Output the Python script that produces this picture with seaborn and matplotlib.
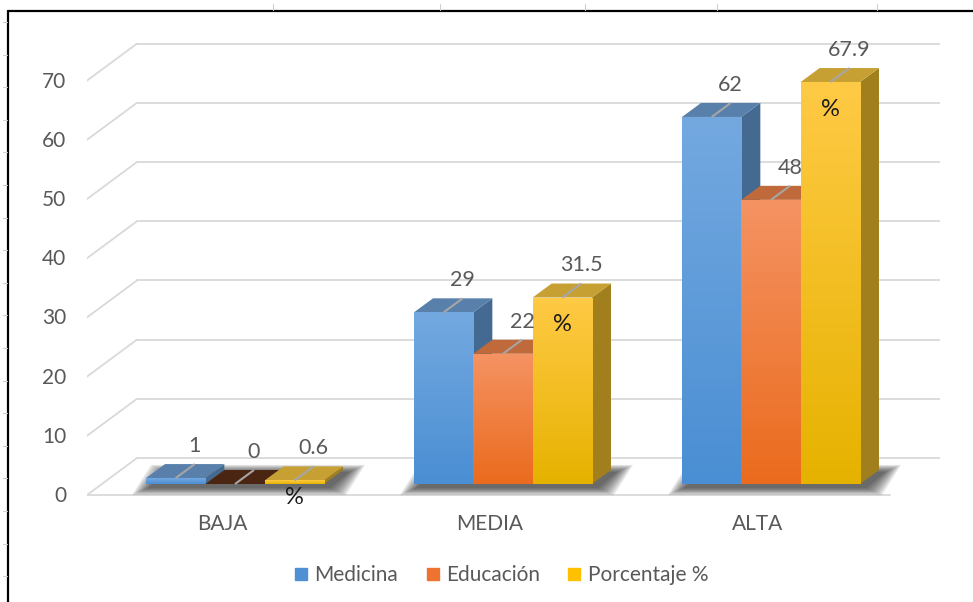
import numpy as np
import pandas as pd
import matplotlib
matplotlib.use("Agg")
import matplotlib.pyplot as plt
import matplotlib.transforms as mtrans
from matplotlib.patches import Polygon
from matplotlib.lines import Line2D
from matplotlib.colors import LinearSegmentedColormap
import seaborn as sns

# ---------------- data ----------------
categories = ["BAJA", "MEDIA", "ALTA"]
series = ["Medicina", "Educación", "Porcentaje %"]
medicina = [1, 29, 62]
educacion = [0, 22, 48]
porcentaje = [0.6, 31.5, 67.9]
y_ticks = [0, 10, 20, 30, 40, 50, 60, 70]

values = {"Medicina": medicina, "Educación": educacion, "Porcentaje %": porcentaje}
df = pd.DataFrame(
    [(c, s, v) for s in series for c, v in zip(categories, values[s])],
    columns=["nivel", "serie", "valor"],
)

# ---------------- styles ----------------
front_top = {"Medicina": "#74a9e0", "Educación": "#f59363", "Porcentaje %": "#ffca45"}
front_bot = {"Medicina": "#4a8ed3", "Educación": "#ea6b1d", "Porcentaje %": "#e6b200"}
top_col = {"Medicina": "#5880ab", "Educación": "#c0693a", "Porcentaje %": "#c7a034"}
side_col = {"Medicina": "#456a92", "Educación": "#b0581f", "Porcentaje %": "#a07f1c"}
legend_col = {"Medicina": "#4e90d3", "Educación": "#ee7330", "Porcentaje %": "#ffc000"}
zero_top = "#4a2512"
text_col = "#595959"
grid_col = "#d9d9d9"

sns.set_theme(style="white")
plt.rcParams["font.family"] = ["Lato", "DejaVu Sans"]

W, H = 973, 602
fig = plt.figure(figsize=(W / 100, H / 100), dpi=100)
fig.patch.set_facecolor("white")

# pixel geometry of the plotting plane (front plane of the bars)
cat_px, x0_px, unit_px, base_px = 268.0, 235.0, 5.92, 484.0
ax_l, ax_r, ax_t, ax_b = 87, 940, 30, 500
ax = fig.add_axes([ax_l / W, 1 - ax_b / H, (ax_r - ax_l) / W, (ax_b - ax_t) / H])
ax.set_facecolor("none")
xlim = ((ax_l - x0_px) / cat_px, (ax_r - x0_px) / cat_px)
ylim = ((base_px - ax_b) / unit_px, (base_px - ax_t) / unit_px)

def px2dx(p):
    return p / cat_px

def px2dy(p):
    return p / unit_px

# depth offsets (in data units)
bar_dx, bar_dy = px2dx(19), px2dy(14)
wall_dx, wall_dy = px2dx(35), px2dy(26)
floor_dx, floor_dy = px2dx(-15), px2dy(-11)

sns.barplot(data=df, x="nivel", y="valor", hue="serie", order=categories,
            hue_order=series, palette=legend_col, width=0.664, gap=0,
            errorbar=None, legend=False, ax=ax, saturation=1)

# ---------------- walls / gridlines ----------------
wall_x0 = px2dx(137 - x0_px)
wall_x1 = px2dx(940 - x0_px)
floor_x0 = px2dx(87 - x0_px)
floor_x1 = px2dx(890 - x0_px)
for v in y_ticks:
    ax.plot([wall_x0, wall_x1], [v + wall_dy, v + wall_dy], color=grid_col, lw=1.3, zorder=0.5)
    ax.plot([floor_x0, wall_x0], [v + floor_dy, v + wall_dy], color=grid_col, lw=1.3, zorder=0.5)
ax.plot([floor_x0, floor_x1], [floor_dy, floor_dy], color=grid_col, lw=1.3, zorder=0.5)

# ---------------- bars (3D faces) ----------------
for si, (s, cont) in enumerate(zip(series, ax.containers)):
    cmap = LinearSegmentedColormap.from_list(s, [front_bot[s], front_top[s]])
    for ci, bar in enumerate(cont.patches):
        x0 = bar.get_x()
        w = bar.get_width()
        h = bar.get_height()
        z = 3 + si * 0.3
        # soft shadow on the floor under each group
        if si == 0:
            gx0 = x0
            gx1 = x0 + 3 * w
            for e in np.linspace(18, 2, 10):
                ex, ey = px2dx(e), px2dy(e * 0.45)
                sx, sy = px2dx(4), px2dy(-3)
                poly = [(gx0 - ex + sx, -ey + sy), (gx1 + ex + sx, -ey + sy),
                        (gx1 + bar_dx + ex + sx, bar_dy + ey + sy),
                        (gx0 + bar_dx - ex + sx, bar_dy + ey + sy)]
                ax.add_patch(Polygon(poly, closed=True, facecolor="#2a2a2a",
                                     edgecolor="none", alpha=0.11, zorder=1.5))
        bar.set_edgecolor("none")
        bar.set_facecolor(front_bot[s])
        bar.set_zorder(z + 0.2)
        if h > 0:
            grad = np.linspace(0, 1, 256).reshape(-1, 1)
            im = ax.imshow(grad, extent=[x0, x0 + w, 0, h], origin="lower",
                           cmap=cmap, aspect="auto", zorder=z + 0.21,
                           interpolation="bilinear")
            im.set_clip_path(bar)
        side = [(x0 + w, 0), (x0 + w + bar_dx, bar_dy),
                (x0 + w + bar_dx, h + bar_dy), (x0 + w, h)]
        ax.add_patch(Polygon(side, closed=True, facecolor=side_col[s],
                             edgecolor="none", zorder=z))
        top = [(x0, h), (x0 + w, h), (x0 + w + bar_dx, h + bar_dy), (x0 + bar_dx, h + bar_dy)]
        ax.add_patch(Polygon(top, closed=True,
                             facecolor=top_col[s] if h > 0 else zero_top,
                             edgecolor="none", zorder=z + 0.1))
        # leader line and value label
        cx = x0 + w / 2
        ax.plot([cx, cx + bar_dx], [h, h + bar_dy], color="#a6a6a6", lw=1.5,
                zorder=z + 0.25, solid_capstyle="butt")
        ax.annotate(f"{h:g}", (cx + bar_dx, h + bar_dy), xytext=(0, 13),
                    textcoords="offset points", ha="center", va="center",
                    fontsize=15.5, color=text_col, zorder=20)
        if s == "Porcentaje %":
            ax.text(cx, max(h - px2dy(27), px2dy(-14)), "%", ha="center",
                    va="center", fontsize=17, color="#1a1a1a", zorder=20)

# ---------------- axes cosmetics ----------------
ax.set_xlim(*xlim)
ax.set_ylim(*ylim)
for sp in ax.spines.values():
    sp.set_visible(False)
ax.set_xlabel("")
ax.set_ylabel("")
ax.grid(False)
ax.set_yticks(y_ticks)
ax.set_yticklabels([str(t) for t in y_ticks])
ax.tick_params(axis="y", length=0, pad=15, labelsize=15, labelcolor=text_col)
ax.tick_params(axis="x", length=0, pad=10, labelsize=15, labelcolor=text_col)
ax.set_xticks(range(len(categories)))
ax.set_xticklabels(categories)
yoff = mtrans.ScaledTranslation(0, -0.10, fig.dpi_scale_trans)
for lab in ax.get_yticklabels():
    lab.set_transform(lab.get_transform() + yoff)
xoff = mtrans.ScaledTranslation(-0.13, 0, fig.dpi_scale_trans)
for lab in ax.get_xticklabels():
    lab.set_transform(lab.get_transform() + xoff)

# ---------------- legend ----------------
handles = [Line2D([], [], marker="s", ls="", markersize=8.6, color=legend_col[s]) for s in series]
fig.legend(handles, series, loc="center", bbox_to_anchor=(501 / W, 1 - 575 / H),
           ncol=3, frameon=False, fontsize=15, handlelength=0.7, handletextpad=0.3,
           columnspacing=1.3, labelcolor=text_col)

# ---------------- outer frame & sheet ticks ----------------
fig.add_artist(Line2D([8 / W, 8 / W], [0, 1 - 11 / H], color="black", lw=1.6,
                      transform=fig.transFigure))
fig.add_artist(Line2D([8 / W, 1], [1 - 11 / H, 1 - 11 / H], color="black", lw=1.6,
                      transform=fig.transFigure))
for k in range(18):
    yy = 1 - (22 + 32.6 * k) / H
    fig.add_artist(Line2D([3 / W, 7 / W], [yy, yy], color="#cfcfcf", lw=0.8,
                          transform=fig.transFigure))
for xx in [273, 440, 585, 717, 877]:
    fig.add_artist(Line2D([xx / W, xx / W], [1 - 4 / H, 1 - 10 / H], color="#cfcfcf",
                          lw=0.8, transform=fig.transFigure))

fig.savefig("out.png", dpi=100, facecolor="white")
